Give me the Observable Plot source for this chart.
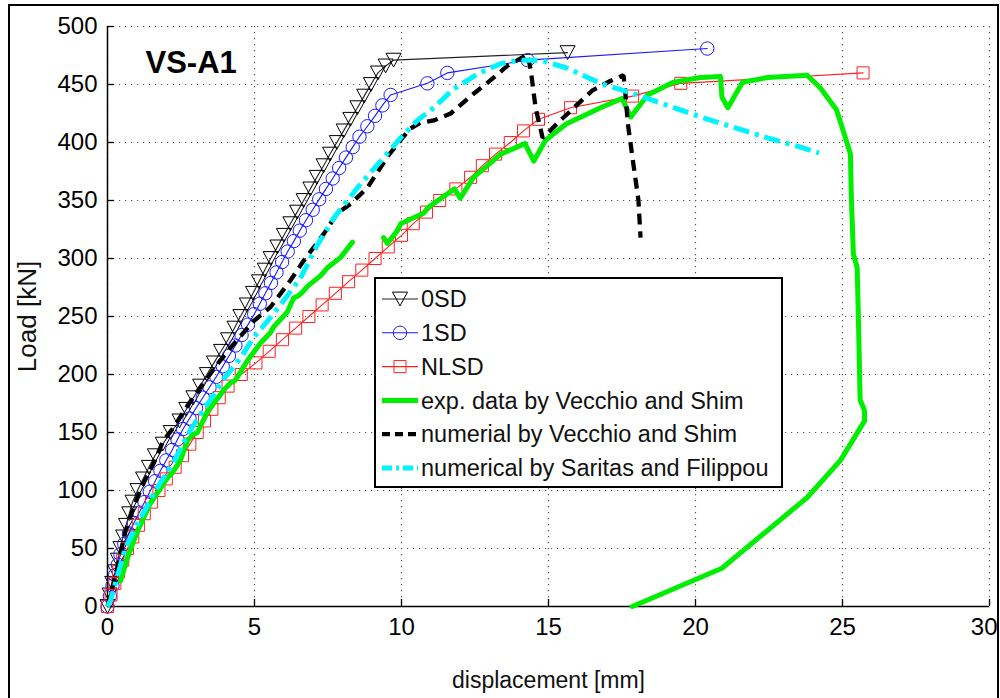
<!DOCTYPE html>
<html><head><meta charset="utf-8">
<script src="https://cdn.jsdelivr.net/npm/d3@7"></script>
<script src="https://cdn.jsdelivr.net/npm/@observablehq/plot@0.6"></script>
<style>
html,body{margin:0;padding:0;background:#fff;}
#wrap{position:relative;width:1000px;height:698px;overflow:hidden;font-family:"Liberation Sans",Arial,Helvetica,sans-serif;background:#fff;}
#chart{position:absolute;left:0;top:0;}
#border{position:absolute;left:8px;top:4px;width:991px;height:760px;border:2px solid #000;box-sizing:border-box;pointer-events:none;}
#legend{position:absolute;left:374px;top:277px;width:409px;height:211px;border:2px solid #000;background:#fff;box-sizing:border-box;}
#legend svg{display:block;}
</style></head>
<body><div id="wrap"><div id="chart"></div><div id="border"></div><div id="legend"></div></div>
<script>
// ---- data (displacement [mm], load [kN]) ----
const xTicks = [0, 5, 10, 15, 20, 25, 30];
const yTicks = [0, 50, 100, 150, 200, 250, 300, 350, 400, 450, 500];
const title = "VS-A1";
const xLabel = "displacement [mm]";
const yLabel = "Load [kN]";
const seriesNames = ["0SD", "1SD", "NLSD", "exp. data by Vecchio and Shim", "numerial by Vecchio and Shim", "numerical by Saritas and Filippou"];

const sd0 = [[0,0],[0.07,10],[0.16,20],[0.26,30],[0.35,40],[0.44,50],[0.53,60],[0.63,70],[0.74,80],[0.85,90],[1.02,100],[1.21,110],[1.41,120],[1.61,130],[1.88,140],[2.15,150],[2.45,160],[2.68,170],[2.92,180],[3.15,190],[3.38,200],[3.62,210],[3.86,220],[4.1,230],[4.32,240],[4.52,250],[4.74,260],[4.95,270],[5.15,280],[5.35,290],[5.55,300],[5.78,310],[6.0,320],[6.22,330],[6.45,340],[6.67,350],[6.9,360],[7.12,370],[7.35,380],[7.57,390],[7.8,400],[8.03,410],[8.26,420],[8.5,430],[8.73,440],[8.96,450],[9.2,460],[9.46,466],[9.73,471],[15.65,477.5]];

const sd1 = [[0,0],[0.08,9],[0.17,18],[0.26,27],[0.35,36],[0.44,45],[0.57,54],[0.73,63],[0.9,72],[1.08,81],[1.26,90],[1.44,99],[1.62,108],[1.8,117],[2.0,126],[2.2,135],[2.38,144],[2.57,153],[2.79,162],[3.01,171],[3.24,180],[3.47,189],[3.7,198],[3.92,207],[4.13,216],[4.35,225],[4.56,234],[4.78,243],[4.99,252],[5.18,261],[5.37,270],[5.56,279],[5.75,288],[5.94,297],[6.13,306],[6.34,315],[6.54,324],[6.75,333],[6.98,342],[7.2,351],[7.43,360],[7.66,369],[7.88,378],[8.11,387],[8.34,396],[8.57,405],[8.84,414],[9.1,423],[9.35,432],[9.63,441],[10.88,451],[11.56,460],[14.29,471],[20.4,481]];

const nlsd = [[0,0],[0.12,10],[0.25,20],[0.38,30],[0.52,40],[0.68,50],[0.86,60],[1.05,70],[1.25,80],[1.5,90],[1.75,100],[2.0,110],[2.3,120],[2.55,130],[2.8,140],[3.05,150],[3.3,160],[3.55,170],[3.8,180],[4.1,190],[4.55,200],[5.05,210],[5.5,220],[5.95,230],[6.4,240],[6.85,250],[7.3,260],[7.75,270],[8.2,280],[8.65,290],[9.1,300],[9.55,310],[10.0,320],[10.4,330],[10.85,340],[11.3,350],[11.85,360],[12.35,370],[12.75,380],[13.2,390],[13.7,400],[14.15,410],[14.66,420],[15.75,430],[17.86,440],[19.5,451],[25.7,460]];

const expA = [[0.44,22],[0.68,42],[1.02,65],[1.46,89],[2.04,111],[2.2,115],[2.48,126],[2.72,143],[2.89,148],[3.06,150],[3.4,168],[4.0,188],[4.2,193],[4.35,195],[4.76,212],[5.2,227],[5.54,236],[5.65,241],[6.12,254],[6.33,266],[6.5,268],[6.63,271],[6.8,276],[7.24,285],[7.48,292],[7.93,301],[8.33,314]];
const expB = [[9.39,318],[9.52,313],[9.86,324],[9.97,330],[10.75,339],[10.9,344],[11.8,360],[12.0,352],[12.45,370],[13.1,384],[13.37,390],[14.2,399],[14.5,384],[14.9,402],[15.6,416],[16.77,430],[17.5,438],[17.8,422],[18.37,441],[19.25,452],[20.17,456],[20.85,457],[20.9,439],[21.1,430],[21.6,452],[22.45,456],[23.8,458],[24.25,447],[24.8,428],[25.05,408],[25.27,390],[25.3,353],[25.37,304],[25.5,292],[25.55,238],[25.6,178],[25.75,169],[25.75,160],[24.93,126],[23.8,94],[20.9,33],[17.85,0]];

const vecNum = [[0,0],[0.3,30],[0.61,65],[0.95,90],[1.22,106],[1.56,123],[1.9,143],[2.24,154],[2.72,173],[3.16,189],[3.74,209],[4.18,223],[4.97,246],[5.54,258],[6.22,281],[6.67,298],[7.35,321],[7.82,339],[8.27,347],[8.84,361],[9.56,389],[9.97,402],[10.3,412],[10.65,417],[11.1,419],[11.67,425],[12.45,442],[12.9,451],[13.6,466],[14.29,476],[14.4,462],[14.56,430],[14.8,404],[14.97,408],[15.4,419],[16.5,445],[17.1,453],[17.55,458],[17.6,447],[17.7,416],[17.9,379],[18.06,350],[18.13,318]];

const sarNum = [[0,0],[0.1,5],[0.27,20],[0.6,50],[1.12,76],[1.63,100],[2.24,124],[2.77,150],[3.2,167],[3.55,180],[3.95,196],[4.52,214],[4.97,232],[5.44,246],[6.0,264],[6.56,283],[7.1,310],[7.7,335],[8.5,361],[9.29,384],[9.97,404],[10.54,419],[11.1,430],[11.77,446],[12.58,459],[13.37,468],[14.05,471],[14.73,471],[15.65,464],[16.77,451],[17.9,442],[19.05,432],[20.17,422],[21.3,413],[22.45,404],[23.57,396],[24.2,391]];

// ---- styles ----
const triDown = {draw(ctx, size){ const r = Math.sqrt(size/Math.PI); const w = 1.25*r, h = 1.15*r; ctx.moveTo(-w,-h); ctx.lineTo(w,-h); ctx.lineTo(0,h); ctx.closePath(); }};
const GREEN = "#00ee00", CYAN = "#00f4ff", BLUE = "#1a1aff", RED = "#ff2020";
const X = d => d[0], Y = d => d[1];
const xLast = xTicks[xTicks.length - 1];

const chart = Plot.plot({
  width: 1000, height: 698,
  marginLeft: 107, marginRight: 11, marginTop: 26, marginBottom: 92,
  x: {domain: [0, 30], label: null},
  y: {domain: [0, 500], label: null},
  style: {fontFamily: '"Liberation Sans", Arial, Helvetica, sans-serif', background: "#fff", color: "#000"},
  marks: [
    Plot.gridX(xTicks, {stroke: "#555", strokeOpacity: 1, strokeWidth: 1.2, strokeDasharray: "1.2,4.8"}),
    Plot.gridY(yTicks, {stroke: "#555", strokeOpacity: 1, strokeWidth: 1.2, strokeDasharray: "1.2,4.8"}),
    Plot.axisX(xTicks.filter(d => d !== xLast), {tickSize: 0, tickPadding: 11, fontSize: 24, tickFormat: d => String(d)}),
    Plot.text([xLast], {x: d => d, frameAnchor: "bottom", dy: 11, dx: 8, lineAnchor: "top", textAnchor: "end", fontSize: 24, text: d => String(d), fill: "#000"}),
    Plot.axisY(yTicks, {tickSize: 0, tickPadding: 10, fontSize: 24, tickFormat: d => String(d)}),
    Plot.tickX(xTicks, {x: d => d, insetTop: 573, stroke: "#000", strokeWidth: 1.3}),
    Plot.tickY(yTicks, {y: d => d, insetRight: 875, stroke: "#000", strokeWidth: 1.3}),
    Plot.ruleX([0], {stroke: "#000", strokeWidth: 1.5}),
    Plot.ruleY([0], {stroke: "#000", strokeWidth: 1.5}),
    // 0SD
    Plot.line(sd0, {x: X, y: Y, stroke: "#222", strokeWidth: 1.1}),
    Plot.dot(sd0, {x: X, y: Y, symbol: triDown, r: 6, stroke: "#000", fill: "none", strokeWidth: 1}),
    // 1SD
    Plot.line(sd1, {x: X, y: Y, stroke: BLUE, strokeWidth: 1.1}),
    Plot.dot(sd1, {x: X, y: Y, symbol: "circle", r: 6.7, stroke: BLUE, fill: "none", strokeWidth: 1}),
    // NLSD
    Plot.line(nlsd, {x: X, y: Y, stroke: RED, strokeWidth: 1.1}),
    Plot.dot(nlsd, {x: X, y: Y, symbol: "square", r: 6.8, stroke: RED, fill: "none", strokeWidth: 1}),
    // experimental
    Plot.line(expA, {x: X, y: Y, stroke: GREEN, strokeWidth: 5}),
    Plot.line(expB, {x: X, y: Y, stroke: GREEN, strokeWidth: 5}),
    // numerical Vecchio
    Plot.line(vecNum, {x: X, y: Y, stroke: "#000", strokeWidth: 4.3, strokeDasharray: "11,7", strokeLinecap: "butt", strokeLinejoin: "miter"}),
    // numerical Saritas
    Plot.line(sarNum, {x: X, y: Y, stroke: CYAN, strokeWidth: 5, strokeDasharray: "16,6,4,6", strokeLinecap: "butt", strokeLinejoin: "miter"}),
    // title and axis labels
    Plot.text([title], {frameAnchor: "top-left", dx: 38, dy: 37, textAnchor: "start", lineAnchor: "middle", fontSize: 31, fontWeight: "bold", fill: "#000"}),
    Plot.text([xLabel], {frameAnchor: "bottom", dy: 74, textAnchor: "middle", lineAnchor: "middle", fontSize: 23, fill: "#111"}),
    Plot.text([yLabel], {frameAnchor: "left", dx: -80, rotate: -90, textAnchor: "middle", lineAnchor: "middle", fontSize: 26, fill: "#111"})
  ]
});
document.getElementById("chart").appendChild(chart);

// ---- legend ----
const legendStyles = [
  {stroke: "#222", width: 1.1, dash: null, sym: triDown, r: 6, mstroke: "#000"},
  {stroke: BLUE, width: 1.1, dash: null, sym: d3.symbolCircle, r: 6.7, mstroke: BLUE},
  {stroke: RED, width: 1.1, dash: null, sym: d3.symbolSquare, r: 6.8, mstroke: RED},
  {stroke: GREEN, width: 5, dash: null},
  {stroke: "#000", width: 4.3, dash: "8,5"},
  {stroke: CYAN, width: 5, dash: "10,4,3,4"}
];
const lsvg = d3.select("#legend").append("svg").attr("width", 405).attr("height", 207)
  .style("font-family", '"Liberation Sans", Arial, Helvetica, sans-serif');
seriesNames.forEach((name, i) => {
  const s = legendStyles[i];
  const cy = 20 + i * 33.8;
  const g = lsvg.append("g").attr("transform", `translate(0,${cy})`);
  g.append("line").attr("x1", 6).attr("x2", 42).attr("y1", 0).attr("y2", 0)
    .attr("stroke", s.stroke).attr("stroke-width", s.width)
    .attr("stroke-dasharray", s.dash).attr("stroke-linecap", "butt");
  if (s.sym) {
    g.append("path").attr("transform", "translate(24,0)")
      .attr("d", d3.symbol().type(s.sym).size(Math.PI * s.r * s.r)())
      .attr("fill", "none").attr("stroke", s.mstroke).attr("stroke-width", 1);
  }
  g.append("text").attr("x", 45).attr("y", 0).attr("dy", "0.35em")
    .attr("font-size", 23.5).attr("fill", "#111").text(name);
});
</script></body></html>
